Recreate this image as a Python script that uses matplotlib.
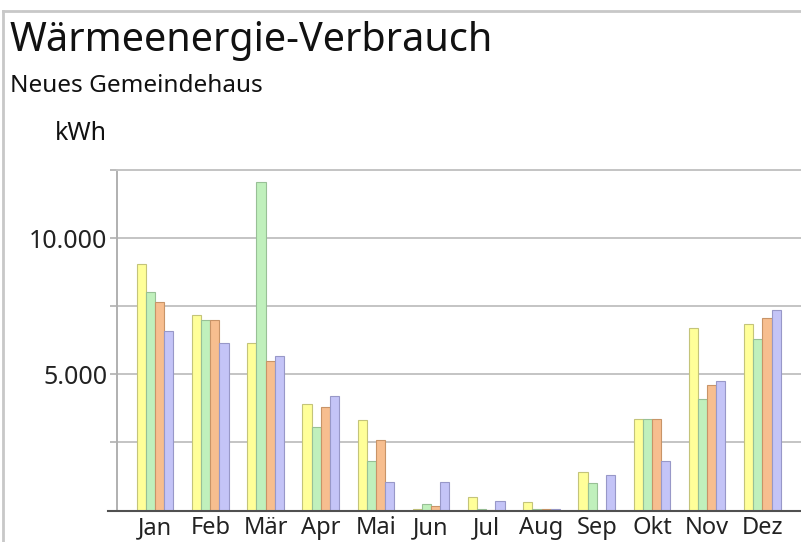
import matplotlib.pyplot as plt
import numpy as np
from matplotlib.lines import Line2D

# ==========================================
# DATA (kWh per month, four years)
# ==========================================
months = ['Jan', 'Feb', 'Mär', 'Apr', 'Mai', 'Jun', 'Jul', 'Aug', 'Sep', 'Okt', 'Nov', 'Dez']
series_yellow = [9050, 7170, 6140, 3910, 3310, 60, 480, 300, 1400, 3360, 6690, 6840]
series_green = [8010, 7000, 12050, 3050, 1830, 240, 50, 60, 1010, 3360, 4090, 6290]
series_orange = [7670, 6990, 5490, 3800, 2600, 150, 30, 60, 0, 3360, 4600, 7080]
series_blue = [6590, 6140, 5680, 4190, 1040, 1040, 340, 50, 1300, 1810, 4750, 7360]

y_ticks = [0, 2500, 5000, 7500, 10000, 12500]
y_tick_labels = ['', '', '5.000', '', '10.000', '']

# ==========================================
# STYLE
# ==========================================
plt.rcParams['font.family'] = ['Noto Sans', 'DejaVu Sans']
fills = ['#ffff99', '#c0f0bc', '#f7be8f', '#c4c4f7']
edges = ['#c4c47a', '#98c096', '#c89468', '#9898c8']

W, H = 801, 542
fig = plt.figure(figsize=(W / 100, H / 100), dpi=100)

# axes box in pixels: left 117, bottom 510.5, top 170, runs off the right edge
left_px, bottom_px, top_px = 117, 510.5, 170
ax = fig.add_axes([left_px / W, (H - bottom_px) / H,
                   (W - left_px) / W, (bottom_px - top_px) / H])

x = np.arange(len(months))
bw = 0.166
all_series = [series_yellow, series_green, series_orange, series_blue]
for i, vals in enumerate(all_series):
    ax.bar(x + (i - 1.5) * bw, vals, width=bw, color=fills[i],
           edgecolor=edges[i], linewidth=0.8, zorder=3)

ax.set_xlim(-0.69, 11.70)
ax.set_ylim(0, 12500)

ax.set_yticks(y_ticks)
ax.set_yticklabels(y_tick_labels, fontsize=18, color='#222222')
ax.set_xticks(x)
ax.set_xticklabels(months, fontsize=17, color='#222222')
ax.tick_params(axis='x', length=0, pad=4)
ax.tick_params(axis='y', length=5, width=1.2, color='#b0b0b0', pad=2)

ax.grid(axis='y', color='#c4c4c4', linewidth=1.4, zorder=0)
for s in ['right', 'bottom']:
    ax.spines[s].set_visible(False)
ax.spines['top'].set_color('#c4c4c4')
ax.spines['top'].set_linewidth(1.4)
ax.spines['left'].set_color('#b0b0b0')
ax.spines['left'].set_linewidth(1.4)

# dark baseline that pokes out left of the y axis
fig.add_artist(Line2D([108 / W, 1.0], [(H - 510.5) / H] * 2,
                      color='#505050', linewidth=1.5))

# outer frame (left and top edges only are visible)
fig.add_artist(Line2D([3 / W, 3 / W], [0, (H - 11) / H],
                      color='#c8c8c8', linewidth=2))
fig.add_artist(Line2D([3 / W, 1.0], [(H - 11) / H] * 2,
                      color='#c8c8c8', linewidth=2))

fig.text(10 / W, 1 - 51 / H, 'Wärmeenergie-Verbrauch', fontsize=28.5,
         color='#111111', va='baseline', ha='left')
fig.text(10 / W, 1 - 92 / H, 'Neues Gemeindehaus', fontsize=17.5,
         color='#111111', va='baseline', ha='left')
fig.text(55 / W, 1 - 140 / H, 'kWh', fontsize=18,
         color='#111111', va='baseline', ha='left')

fig.savefig('out.png', dpi=100, facecolor='white')
